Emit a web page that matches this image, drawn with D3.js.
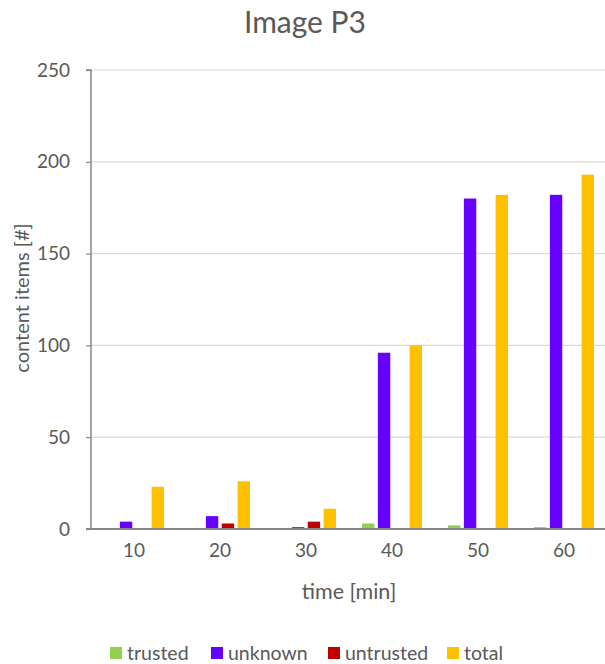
<!DOCTYPE html>
<html><head><meta charset="utf-8">
<script src="https://cdn.jsdelivr.net/npm/d3@7"></script>
<style>body{margin:0;background:#fff}svg{display:block;font-family:Lato,"Open Sans",sans-serif}</style>
</head><body><svg id="c" width="605" height="664"></svg>
<script>
const categories = ["10","20","30","40","50","60"];
const seriesNames = ["trusted","unknown","untrusted","total"];
const trusted   = [0, 0, 0, 3, 2, 1];
const unknown   = [4, 7, 1, 96, 180, 182];
const untrusted = [0, 3, 4, 0, 0, 0];
const total     = [23, 26, 11, 100, 182, 193];
const yTicks = [0, 50, 100, 150, 200, 250];
const colors = ["#92D050", "#6600FF", "#C00000", "#FFC000"];
const seriesValues = [trusted, unknown, untrusted, total];

const svg = d3.select("#c");
const mLeft = 91, mRight = 607, mTop = 70, mBottom = 529;
const x0 = d3.scaleBand().domain(categories).range([mLeft, mRight]).padding(0);
const x1 = d3.scaleBand().domain(seriesNames).range([13, 73]).paddingInner(0.22).paddingOuter(0);
const y = d3.scaleLinear().domain([0, 250]).range([mBottom, mTop]);

// gridlines
svg.append("g").selectAll("line").data(yTicks.filter(d => d > 0)).join("line")
  .attr("x1", mLeft).attr("x2", 605).attr("y1", d => y(d)).attr("y2", d => y(d))
  .attr("stroke", "#D9D9D9").attr("stroke-width", 1.2);

// bars
seriesNames.forEach((s, si) => {
  svg.append("g").selectAll("rect").data(seriesValues[si]).join("rect")
    .attr("x", (d, i) => x0(categories[i]) + x1(s))
    .attr("width", x1.bandwidth())
    .attr("y", d => y(d))
    .attr("height", d => mBottom - y(d))
    .attr("fill", colors[si]);
});

// y axis
const ya = svg.append("g").attr("transform", `translate(${mLeft},0)`)
  .call(d3.axisLeft(y).tickValues(yTicks).tickSize(5).tickPadding(16));
ya.select(".domain").attr("stroke", "#868686").attr("stroke-width", 1.5).attr("d", `M-5,${mTop}H0V${mBottom}`);
ya.selectAll(".tick line").attr("stroke", "#868686").attr("stroke-width", 1.2);
ya.selectAll("text").attr("fill", "#595959").style("font-size", "19px").style("font-family", "Lato, 'Open Sans', sans-serif");

// x axis
const xa = svg.append("g").attr("transform", `translate(0,${mBottom})`)
  .call(d3.axisBottom(x0).tickSize(0).tickPadding(15));
xa.select(".domain").attr("stroke", "#868686").attr("stroke-width", 1.8).attr("d", `M${mLeft - 5},0H605`);
xa.selectAll("text").attr("fill", "#595959").style("font-size", "19px").style("font-family", "Lato, 'Open Sans', sans-serif");

// titles
svg.append("text").attr("x", 305).attr("y", 33).attr("text-anchor", "middle")
  .attr("fill", "#595959").style("font-size", "30px").text("Image P3");
svg.append("text").attr("x", 349).attr("y", 599).attr("text-anchor", "middle")
  .attr("fill", "#595959").style("font-size", "21.5px").text("time [min]");
svg.append("text").attr("transform", "translate(22,298) rotate(-90)").attr("text-anchor", "middle")
  .attr("dy", "0.35em").attr("fill", "#595959").style("font-size", "20px").text("content items [#]");

// legend
const legX = [110, 211, 328, 447];
const leg = svg.append("g");
seriesNames.forEach((s, i) => {
  leg.append("rect").attr("x", legX[i]).attr("y", 647).attr("width", 12).attr("height", 12).attr("fill", colors[i]);
  leg.append("text").attr("x", legX[i] + 17).attr("y", 660).attr("fill", "#595959")
    .style("font-size", "19.5px").text(s);
});
</script></body></html>
